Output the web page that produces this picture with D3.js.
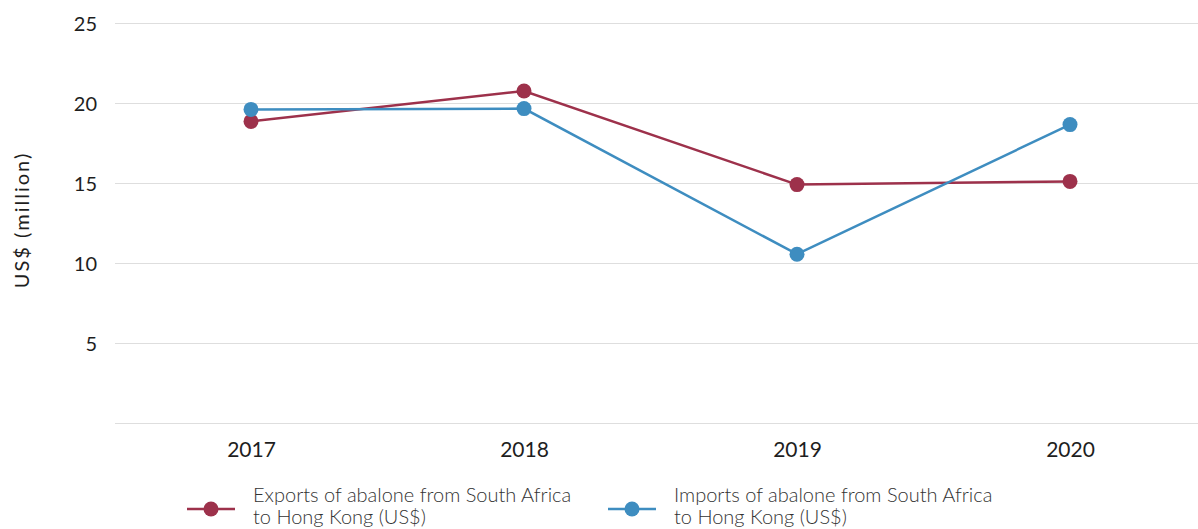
<!DOCTYPE html>
<html>
<head>
<meta charset="utf-8">
<script src="https://cdn.jsdelivr.net/npm/d3@7"></script>
<style>
  html, body { margin: 0; padding: 0; background: #fff; }
  svg { display: block; font-family: Lato, "Open Sans", sans-serif; }
</style>
</head>
<body>
<svg id="chart" width="1198" height="529"></svg>
<script>
// Abalone trade, South Africa -> Hong Kong (US$ million)
const years = ["2017", "2018", "2019", "2020"];
const exportsValues = [18.85, 20.75, 14.9, 15.1];
const importsValues = [19.6, 19.65, 10.55, 18.65];
const yTicks = [5, 10, 15, 20, 25];
const seriesNames = [
  ["Exports of abalone from South Africa", "to Hong Kong (US$)"],
  ["Imports of abalone from South Africa", "to Hong Kong (US$)"]
];
const colors = ["#9d314b", "#3e8dc0"];

const svg = d3.select("#chart");
const plot = { left: 115, right: 1198, top: 23, bottom: 423 };

const x = d3.scalePoint()
  .domain(years)
  .range([251, 1070]);

const y = d3.scaleLinear()
  .domain([0, 25])
  .range([plot.bottom, plot.top]);

// horizontal gridlines
svg.append("g")
  .selectAll("line")
  .data([0].concat(yTicks))
  .join("line")
  .attr("x1", plot.left)
  .attr("x2", plot.right)
  .attr("y1", d => Math.round(y(d)) + 0.5)
  .attr("y2", d => Math.round(y(d)) + 0.5)
  .attr("stroke", "#dedede")
  .attr("stroke-width", 1);

// y axis tick labels
const yAxis = d3.axisLeft(y).tickValues(yTicks).tickSize(0).tickPadding(0);
const gy = svg.append("g").attr("transform", "translate(97,1)").call(yAxis);
gy.select(".domain").remove();
gy.selectAll("text")
  .attr("fill", "#1e1e1e")
  .style("font-size", "20px")
  .style("font-family", "Lato, sans-serif");

// x axis labels
const xAxis = d3.axisBottom(x).tickSize(0).tickPadding(0);
const gx = svg.append("g").attr("transform", "translate(0,442)").call(xAxis);
gx.select(".domain").remove();
gx.selectAll("text")
  .attr("fill", "#1e1e1e")
  .style("font-size", "21px")
  .style("font-family", "Lato, sans-serif");

// y axis title
svg.append("text")
  .attr("transform", "translate(29,220) rotate(-90)")
  .attr("text-anchor", "middle")
  .attr("fill", "#1e1e1e")
  .style("font-size", "20px")
  .style("letter-spacing", "2px")
  .text("US$ (million)");

// series lines + markers
const series = [exportsValues, importsValues];
const line = d3.line()
  .x((d, i) => x(years[i]))
  .y(d => y(d));

series.forEach((vals, s) => {
  const g = svg.append("g");
  g.append("path")
    .datum(vals)
    .attr("d", line)
    .attr("fill", "none")
    .attr("stroke", colors[s])
    .attr("stroke-width", 2.5);
  g.selectAll("circle")
    .data(vals)
    .join("circle")
    .attr("cx", (d, i) => x(years[i]))
    .attr("cy", d => y(d))
    .attr("r", 7.5)
    .attr("fill", colors[s]);
});

// legend
const legendX = [211, 632];
seriesNames.forEach((lines, s) => {
  const g = svg.append("g").attr("transform", `translate(${legendX[s]},509)`);
  g.append("line")
    .attr("x1", -24).attr("x2", 24)
    .attr("y1", 0).attr("y2", 0)
    .attr("stroke", colors[s])
    .attr("stroke-width", 2.5);
  g.append("circle").attr("r", 7.5).attr("fill", colors[s]);
  const t = g.append("text")
    .attr("x", 42)
    .attr("fill", "#333")
    .style("font-size", "20px")
    .style("font-weight", 300);
  t.append("tspan").attr("x", 42).attr("y", -7).text(lines[0]);
  t.append("tspan").attr("x", 42).attr("y", 15).text(lines[1]);
});
</script>
</body>
</html>
